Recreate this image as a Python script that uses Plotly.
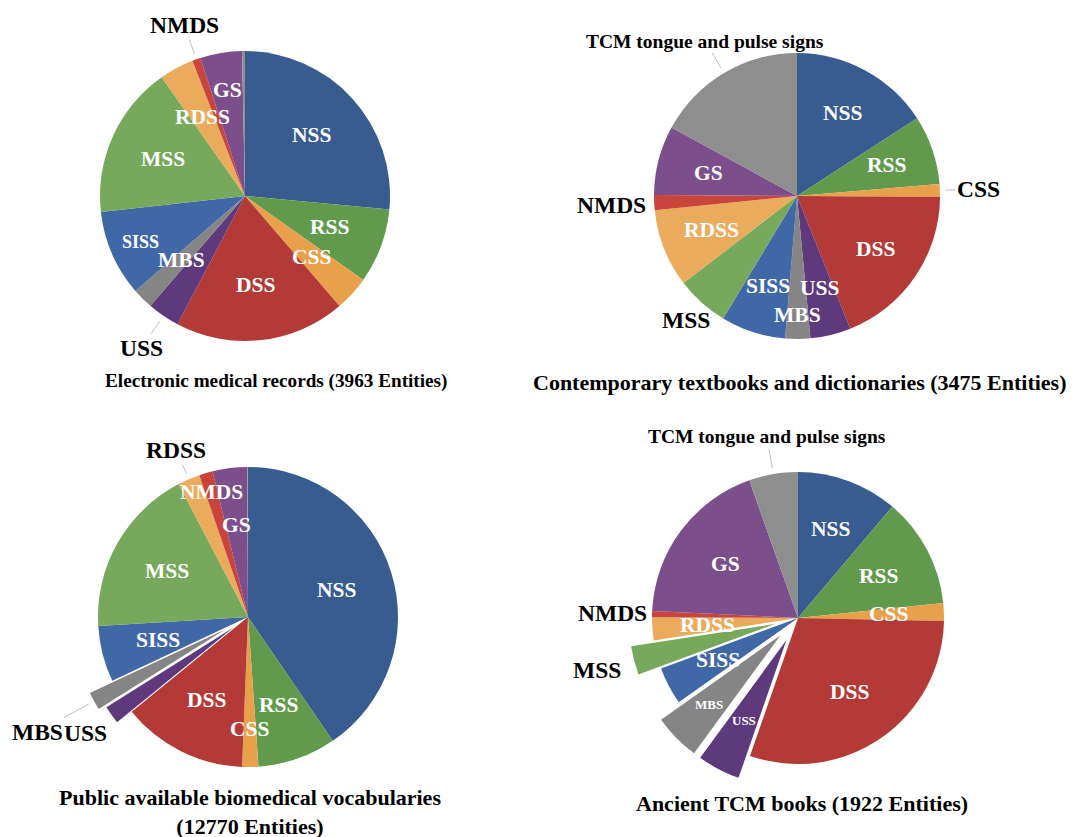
import math
import plotly.graph_objects as go

categories = ["NSS", "RSS", "CSS", "DSS", "USS", "MBS", "SISS", "MSS", "RDSS", "NMDS", "GS",
              "TCM tongue and pulse signs"]
colors = ["#385B90", "#619A4C", "#E9A04B", "#B33A37", "#5E3A7D", "#858585",
          "#4068A6", "#76A95C", "#EBAB5C", "#C9443A", "#7C4E8C", "#8E8E8E"]

# Entity counts
emr_values = [1050, 330, 154, 753, 143, 92, 380, 675, 152, 37, 184, 13]
textbook_values = [551, 271, 50, 654, 159, 98, 254, 207, 306, 59, 273, 592]
vocab_values = [5168, 1078, 223, 1724, 248, 248, 773, 2337, 305, 188, 475, 10]
ancient_values = [215, 234, 38, 577, 91, 99, 80, 61, 49, 13, 362, 104]

titles = ["Electronic medical records (3963 Entities)",
          "Contemporary textbooks and dictionaries (3475 Entities)",
          "Public available biomedical vocabularies<br>(12770 Entities)",
          "Ancient TCM books (1922 Entities)"]

# ---- styling / layout (not data) ----
W, H = 1074, 837
FONT = "Liberation Serif"
IN_K, OUT_K = 0.62, 1.26          # label distance from centre, in radii
IN_SIZE, OUT_SIZE = 21.5, 23.5

# per-slice label style: (mode, radial factor or None, font size or None, leader line)
# mode 'i' inside (white), 'o' outside (black), '' no label
emr_lbl = [("i", None, None, 0), ("i", None, None, 0), ("i", None, None, 0), ("i", None, None, 0),
           ("o", 1.27, None, 1), ("i", None, None, 0), ("i", 0.79, 18, 0), ("i", None, None, 0),
           ("i", None, None, 0), ("o", 1.25, None, 1), ("i", 0.74, None, 0), ("", None, None, 0)]
textbook_lbl = [("i", 0.66, None, 0), ("i", 0.66, None, 0), ("o", 1.27, None, 1), ("i", 0.66, None, 0),
                ("i", 0.66, None, 0), ("i", 0.83, None, 0), ("i", 0.66, None, 0), ("o", 1.16, None, 0),
                ("i", 0.64, None, 0), ("o", 1.30, None, 0), ("i", 0.64, None, 0), ("o", 1.26, 19.5, 1)]
vocab_lbl = [("i", None, None, 0), ("i", None, None, 0), ("i", 0.75, None, 0), ("i", None, None, 0),
             ("o", 1.21, None, 0), ("o", 1.43, None, 1), ("i", None, None, 0), ("i", None, None, 0),
             ("o", 1.21, None, 1), ("i", 0.87, None, 0), ("i", None, None, 0), ("", None, None, 0)]
ancient_lbl = [("i", 0.65, None, 0), ("i", None, None, 0), ("i", None, None, 0), ("i", None, None, 0),
               ("i", None, 13, 0), ("i", 0.68, 13, 0), ("i", None, None, 0), ("o", None, None, 0),
               ("i", None, None, 0), ("o", 1.27, None, 0), ("i", None, None, 0), ("o", None, 19.5, 1)]

vocab_pull = [0, 0, 0, 0, 0.12, 0.17, 0, 0, 0, 0, 0, 0]
ancient_pull = [0, 0, 0, 0, 0.17, 0.17, 0, 0.16, 0, 0, 0, 0]

# pie centre (x, y) and radius in screen pixels; page has an 8px body margin
PIES = [(245, 196, 145), (797, 196, 143), (248, 617, 150), (798, 618, 146)]
OFF = 8


def fx(x):
    return x - OFF


def fy(y):
    return y - OFF


def dom(cx, cy, half):
    cx, cy = fx(cx), fy(cy)
    return dict(x=[(cx - half) / W, (cx + half) / W],
                y=[(H - cy - half) / H, (H - cy + half) / H])


def mid_angles(values):
    total = float(sum(values))
    acc, out = 0.0, []
    for v in values:
        out.append((acc + v / 2.0) / total * 360.0)
        acc += v
    return out


fig = go.Figure()


def add_pie(values, lbl, geom, pull=None):
    pulls = pull if pull else [0] * len(values)
    cx, cy, r = geom
    fig.add_trace(go.Pie(
        labels=categories, values=values, textinfo="none",
        sort=False, direction="clockwise", rotation=0, pull=pulls,
        marker=dict(colors=colors, line=dict(color="white", width=0)),
        domain=dom(cx, cy, r * (1 + max(pulls))), showlegend=False,
        hoverinfo="label+value+percent",
    ))
    for cat, th, p, (mode, k, size, line) in zip(categories, mid_angles(values), pulls, lbl):
        if not mode:
            continue
        if k is None:
            k = IN_K if mode == "i" else OUT_K
        if size is None:
            size = IN_SIZE if mode == "i" else OUT_SIZE
        t = math.radians(th)
        d = (k + p) * r
        lx, ly = cx + d * math.sin(t), cy - d * math.cos(t)
        font = dict(family=FONT, size=size, weight="bold",
                    color="white" if mode == "i" else "black")
        if line:
            e = (1.04 + p) * r
            px, py = cx + e * math.sin(t), cy - e * math.cos(t)
            fig.add_annotation(text=cat, x=fx(px) / W, y=1 - fy(py) / H,
                               xref="paper", yref="paper", showarrow=True, arrowhead=0,
                               arrowwidth=1, arrowcolor="#BFBFBF",
                               ax=lx - px, ay=ly - py, font=font)
        else:
            fig.add_annotation(text=cat, x=fx(lx) / W, y=1 - fy(ly) / H,
                               xref="paper", yref="paper", showarrow=False,
                               xanchor="center", yanchor="middle", font=font)


add_pie(emr_values, emr_lbl, PIES[0])
add_pie(textbook_values, textbook_lbl, PIES[1])
add_pie(vocab_values, vocab_lbl, PIES[2], vocab_pull)
add_pie(ancient_values, ancient_lbl, PIES[3], ancient_pull)

title_pos = [(276, 381, 19.2), (799, 382, 22), (250, 812, 22), (802, 803, 22)]
for t, (x, y, s) in zip(titles, title_pos):
    fig.add_annotation(text=t, x=fx(x) / W, y=1 - fy(y) / H, xref="paper", yref="paper",
                       showarrow=False, xanchor="center", yanchor="middle",
                       font=dict(family=FONT, size=s, color="black", weight="bold"))

fig.update_layout(width=W, height=H, margin=dict(l=0, r=0, t=0, b=0),
                  paper_bgcolor="white", plot_bgcolor="white")
fig.write_html("out.html")
